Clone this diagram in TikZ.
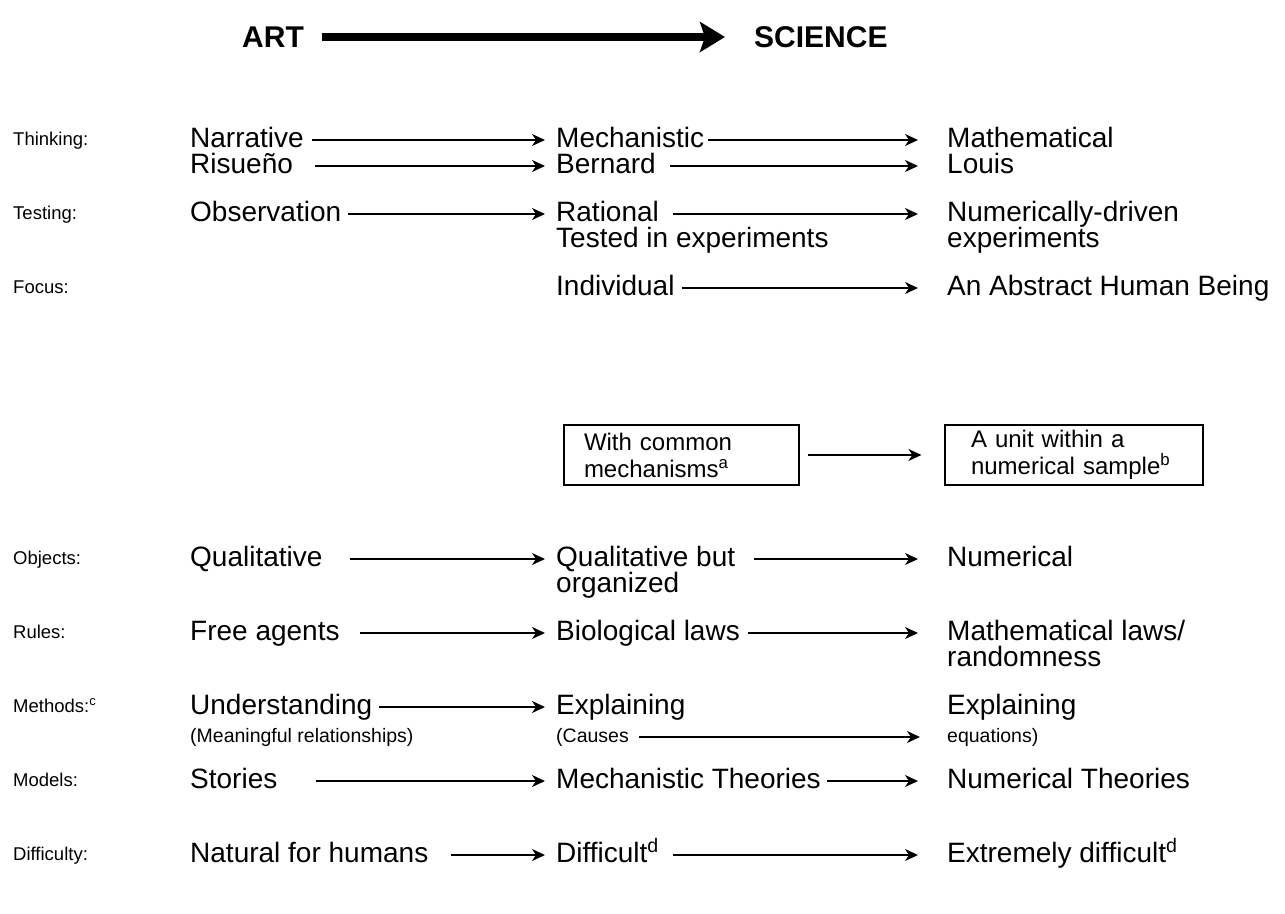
\documentclass[tikz,border=0pt]{standalone}
\usepackage{fontspec}
\setmainfont{Liberation Sans}
\usetikzlibrary{arrows.meta}
\begin{document}
\begin{tikzpicture}[x=1pt,y=-1pt,
  lbl/.style={anchor=base west,inner sep=0pt,font=\fontsize{18.5}{21}\selectfont,text height=10pt,text depth=0pt},
  txt/.style={anchor=base west,inner sep=0pt,font=\fontsize{28}{30}\selectfont,text height=14pt,text depth=0pt},
  sml/.style={anchor=base west,inner sep=0pt,font=\fontsize{19.5}{22}\selectfont,text height=10pt,text depth=0pt},
  ttl/.style={anchor=base west,inner sep=0pt,font=\fontsize{30}{32}\selectfont\bfseries,text height=20pt,text depth=0pt},
  arr/.style={-{Stealth[length=13pt,width=12pt,inset=4pt]},line width=1.5pt},
  bigarr/.style={-{Stealth[length=25pt,width=30pt,inset=5pt]},line width=8pt},
  boxn/.style={draw,line width=1.2pt,minimum height=60pt,inner ysep=0pt,align=left,font=\fontsize{24}{27}\selectfont}
]
\useasboundingbox (0,0) rectangle (1285,913);

% title
\node[ttl] (art) at (242,47) {ART};
\node[ttl] (sci) at (754,47) {SCIENCE};
\draw[bigarr] ([xshift=18pt]art.east) -- ([xshift=-29pt]sci.west);

% Thinking
\node[lbl] (lthink) at (13,145) {Thinking:};
\node[txt] (narr) at (190,147) {Narrative};
\node[txt] (mech) at (556,147) {Mechanistic};
\node[txt] (math) at (947,147) {Mathematical};
\node[txt] (risu) at (190,173) {Risueño};
\node[txt] (bern) at (556,173) {Bernard};
\node[txt] (louis) at (947,173) {Louis};
\draw[arr] ([xshift=8pt]narr.east) -- ([xshift=-11pt]mech.west);
\draw[arr] ([xshift=4pt]mech.east) -- ([xshift=-29pt]math.west);
\draw[arr] ([xshift=22pt]risu.east) -- ([xshift=-11pt]bern.west);
\draw[arr] ([xshift=14pt]bern.east) -- ([xshift=-29pt]louis.west);

% Testing
\node[lbl] (ltest) at (13,219) {Testing:};
\node[txt] (obs) at (190,221) {Observation};
\node[txt] (rat) at (556,221) {Rational};
\node[txt] (numd) at (947,221) {Numerically-driven};
\node[txt] (tested) at (556,247) {Tested in experiments};
\node[txt] (exper) at (947,247) {experiments};
\draw[arr] ([xshift=7pt]obs.east) -- ([xshift=-11pt]rat.west);
\draw[arr] ([xshift=14pt]rat.east) -- ([xshift=-29pt]numd.west);

% Focus
\node[lbl] (lfocus) at (13,293) {Focus:};
\node[txt] (indiv) at (556,295) {Individual};
\node[txt] (abst) at (947,295) {An Abstract Human Being};
\draw[arr] ([xshift=7pt]indiv.east) -- ([xshift=-29pt]abst.west);

% boxes
\node[boxn,minimum width=235pt,text width=195pt,inner xsep=20pt] (b1) at (681.5,455) {With common\\mechanisms\textsuperscript{a}};
\node[boxn,minimum width=258pt,text width=206pt,inner xsep=26pt] (b2) at (1074,455) {A unit within a\\numerical sample\textsuperscript{b}};
\draw[arr] ([xshift=8pt]b1.east) -- ([xshift=-23pt]b2.west);

% Objects
\node[lbl] (lobj) at (13,564) {Objects:};
\node[txt] (qual) at (190,566) {Qualitative};
\node[txt] (qbut) at (556,566) {Qualitative but};
\node[txt] (orgz) at (556,592) {organized};
\node[txt] (numer) at (947,566) {Numerical};
\draw[arr] ([xshift=27pt]qual.east) -- ([xshift=-11pt]qbut.west);
\draw[arr] ([xshift=19pt]qbut.east) -- ([xshift=-29pt]numer.west);

% Rules
\node[lbl] (lrules) at (13,638) {Rules:};
\node[txt] (free) at (190,640) {Free agents};
\node[txt] (bio) at (556,640) {Biological laws};
\node[txt] (mlaw) at (947,640) {Mathematical laws/};
\node[txt] (rand) at (947,666) {randomness};
\draw[arr] ([xshift=20pt]free.east) -- ([xshift=-11pt]bio.west);
\draw[arr] ([xshift=8pt]bio.east) -- ([xshift=-29pt]mlaw.west);

% Methods
\node[lbl] (lmeth) at (13,712) {Methods:\textsuperscript{c}};
\node[txt] (und) at (190,714) {Understanding};
\node[txt] (expl) at (556,714) {Explaining};
\node[txt] (explb) at (947,714) {Explaining};
\node[sml] (mean) at (190,742) {(Meaningful relationships)};
\node[sml] (caus) at (556,742) {(Causes};
\node[sml] (equ) at (947,742) {equations)};
\draw[arr] ([xshift=6pt]und.east) -- ([xshift=-11pt]expl.west);
\draw[arr] ([xshift=10pt]caus.east) -- ([xshift=-27pt]equ.west);

% Models
\node[lbl] (lmod) at (13,786) {Models:};
\node[txt] (stor) at (190,788) {Stories};
\node[txt] (mtheo) at (556,788) {Mechanistic Theories};
\node[txt] (ntheo) at (947,788) {Numerical Theories};
\draw[arr] ([xshift=38pt]stor.east) -- ([xshift=-11pt]mtheo.west);
\draw[arr] ([xshift=6pt]mtheo.east) -- ([xshift=-29pt]ntheo.west);

% Difficulty
\node[lbl] (ldiff) at (13,860) {Difficulty:};
\node[txt] (nat) at (190,862) {Natural for humans};
\node[txt] (diff) at (556,862) {Difficult\textsuperscript{d}};
\node[txt] (ext) at (947,862) {Extremely difficult\textsuperscript{d}};
\draw[arr] ([xshift=22pt]nat.east) -- ([xshift=-11pt]diff.west);
\draw[arr] ([xshift=14pt]diff.east) -- ([xshift=-29pt]ext.west);
\end{tikzpicture}
\end{document}
